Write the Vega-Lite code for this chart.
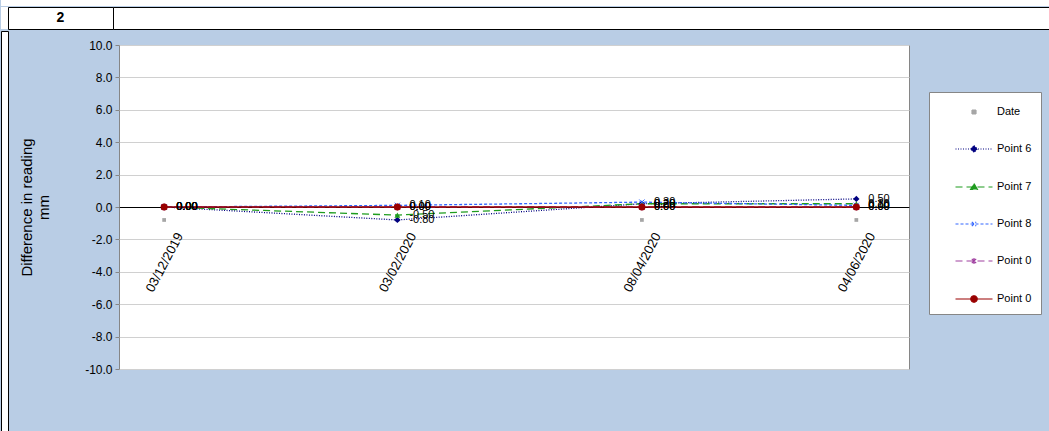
{
  "$schema": "https://vega.github.io/schema/vega-lite/v6.json",
  "background": "#b9cde5",
  "padding": 0,
  "spacing": 0,
  "config": {
    "font": "Liberation Sans",
    "view": {"stroke": null},
    "concat": {"spacing": 0},
    "locale": {"number": {"decimal": ".", "thousands": ",", "grouping": [3], "currency": ["$", ""], "minus": "-"}}
  },
  "datasets": {
    "none": [],
    "one": [{"k": 1}],
    "readings": [
      {"series": "Date", "date": "2019-12-03", "value": -0.8},
      {"series": "Date", "date": "2020-02-03", "value": -0.8},
      {"series": "Date", "date": "2020-04-08", "value": -0.8},
      {"series": "Date", "date": "2020-06-04", "value": -0.8},
      {"series": "Point 6", "date": "2019-12-03", "value": 0},
      {"series": "Point 6", "date": "2020-02-03", "value": -0.8},
      {"series": "Point 6", "date": "2020-04-08", "value": 0.2},
      {"series": "Point 6", "date": "2020-06-04", "value": 0.5},
      {"series": "Point 7", "date": "2019-12-03", "value": 0},
      {"series": "Point 7", "date": "2020-02-03", "value": -0.5},
      {"series": "Point 7", "date": "2020-04-08", "value": 0.2},
      {"series": "Point 7", "date": "2020-06-04", "value": 0.2},
      {"series": "Point 8", "date": "2019-12-03", "value": 0},
      {"series": "Point 8", "date": "2020-02-03", "value": 0.1},
      {"series": "Point 8", "date": "2020-04-08", "value": 0.3},
      {"series": "Point 8", "date": "2020-06-04", "value": 0.1},
      {"series": "Point 0a", "date": "2019-12-03", "value": 0},
      {"series": "Point 0a", "date": "2020-02-03", "value": 0},
      {"series": "Point 0a", "date": "2020-04-08", "value": 0},
      {"series": "Point 0a", "date": "2020-06-04", "value": 0},
      {"series": "Point 0b", "date": "2019-12-03", "value": 0},
      {"series": "Point 0b", "date": "2020-02-03", "value": 0},
      {"series": "Point 0b", "date": "2020-04-08", "value": 0},
      {"series": "Point 0b", "date": "2020-06-04", "value": 0}
    ]
  },
  "vconcat": [
    {"width": 1049, "height": 6, "data": {"name": "none"}, "mark": {"type": "text", "text": ""}, "view": {"fill": "white", "stroke": null}},
    {
      "spacing": 0,
      "bounds": "flush",
      "hconcat": [
        {"width": 7, "height": 22, "data": {"name": "none"}, "mark": {"type": "text", "text": ""}, "view": {"fill": "white", "stroke": null}},
        {"width": 105, "height": 22, "data": {"name": "one"}, "mark": {"type": "text", "text": "2", "fontSize": 14, "fontWeight": "bold", "color": "#000000"}, "view": {"fill": "white", "stroke": "#000000", "strokeWidth": 1}},
        {"width": 945, "height": 22, "data": {"name": "none"}, "mark": {"type": "text", "text": ""}, "view": {"fill": "white", "stroke": "#000000", "strokeWidth": 1}}
      ]
    },
    {
      "spacing": 0,
      "bounds": "flush",
      "hconcat": [
        {"width": 7, "height": 410, "data": {"name": "none"}, "mark": {"type": "text", "text": ""}, "view": {"fill": "white", "stroke": "#000000", "strokeWidth": 1}},
        {"width": 111, "height": 1, "data": {"name": "none"}, "mark": {"type": "text", "text": ""}},
        {
          "spacing": 0,
          "bounds": "flush",
          "vconcat": [
            {"width": 1, "height": 14, "data": {"name": "none"}, "mark": {"type": "text", "text": ""}},
            {
              "width": 790,
              "height": 324,
              "data": {"name": "readings"},
              "view": {"fill": "white", "stroke": "#868686", "strokeWidth": 1},
              "encoding": {
                "x": {
                  "field": "date", "type": "temporal",
                  "scale": {"type": "utc", "domain": [{"year": 2019, "month": 11, "date": 21, "utc": true}, {"year": 2020, "month": 6, "date": 18, "utc": true}]},
                  "axis": {
                    "title": null, "orient": "bottom", "offset": -162,
                    "values": [{"year": 2019, "month": 12, "date": 3, "utc": true}, {"year": 2020, "month": 2, "date": 3, "utc": true}, {"year": 2020, "month": 4, "date": 8, "utc": true}, {"year": 2020, "month": 6, "date": 4, "utc": true}],
                    "format": "%d/%m/%Y", "grid": false, "ticks": false, "domain": true, "domainColor": "#000000", "domainWidth": 1,
                    "labelAngle": -62, "labelAlign": "center", "labelBaseline": "middle", "labelPadding": 55,
                    "labelFontSize": 13, "labelColor": "#000000", "labelOverlap": false, "labelFlush": false, "labelBound": false
                  }
                },
                "y": {
                  "field": "value", "type": "quantitative",
                  "scale": {"domain": [-10, 10], "nice": false, "zero": false},
                  "axis": {
                    "title": ["Difference in reading", "mm"],
                    "values": [-10, -8, -6, -4, -2, 0, 2, 4, 6, 8, 10],
                    "format": ".1f", "grid": true, "gridColor": "#d0d0d0", "domain": false,
                    "ticks": true, "tickSize": 4, "tickColor": "#868686", "labelPadding": 3,
                    "labelFontSize": 12, "labelColor": "#000000",
                    "titleFontSize": 15, "titleFontWeight": "normal", "titleColor": "#000000", "titlePadding": 33, "titleLineHeight": 17
                  }
                }
              },
              "layer": [
                {
                  "transform": [{"filter": "false"}],
                  "mark": {"type": "point", "filled": true},
                  "encoding": {
                    "color": {
                      "field": "series", "type": "nominal",
                      "scale": {"domain": ["Date", "Point 6", "Point 7", "Point 8", "Point 0a", "Point 0b"], "range": ["#a6a6a6", "#000080", "#1f9c1f", "#3366ff", "#a040a0", "#990000"]},
                      "legend": {
                        "orient": "none", "legendX": 928, "legendY": 92, "title": null,
                        "fillColor": "#ffffff", "strokeColor": "#868686", "padding": 9,
                        "rowPadding": 21, "symbolSize": 400, "symbolOffset": 25, "labelOffset": 12,
                        "labelFontSize": 11, "labelColor": "#000000", "labelFont": "Liberation Sans",
                        "labelExpr": "datum.label == 'Point 0a' || datum.label == 'Point 0b' ? 'Point 0' : datum.label",
                        "symbolStrokeWidth": 1.2, "symbolOpacity": 1
                      }
                    },
                    "shape": {
                      "field": "series", "type": "nominal",
                      "scale": {"domain": ["Date", "Point 6", "Point 7", "Point 8", "Point 0a", "Point 0b"], "range": [
                        "M-0.2,-0.2H0.2V0.2H-0.2Z",
                        "M-1.85,0H1.85M0,-0.34L0.34,0L0,0.34L-0.34,0Z",
                        "M-1.85,0H1.85M0,-0.34L0.34,0.25L-0.34,0.25Z",
                        "M-1.85,0H1.85M-0.22,-0.22L0.22,0.22M-0.22,0.22L0.22,-0.22",
                        "M-1.85,0H1.85M-0.22,-0.22L0.22,0.22M-0.22,0.22L0.22,-0.22M0,-0.3V0.3",
                        "M-1.85,0H1.85M0.32,0A0.32,0.32 0 1 1 -0.32,0A0.32,0.32 0 1 1 0.32,0Z"
                      ]}
                    },
                    "strokeDash": {"field": "series", "type": "nominal", "scale": {"domain": ["Date", "Point 6", "Point 7", "Point 8", "Point 0a", "Point 0b"], "range": [[1, 0], [1, 1.5], [7, 4], [3, 2], [7, 4], [1, 0]]}}
                  }
                },
                {
                  "transform": [{"filter": "datum.series != 'Date'"}],
                  "mark": {"type": "line", "strokeWidth": 1.3},
                  "encoding": {
                    "color": {"field": "series", "type": "nominal", "scale": {"domain": ["Date", "Point 6", "Point 7", "Point 8", "Point 0a", "Point 0b"], "range": ["#a6a6a6", "#000080", "#1f9c1f", "#3366ff", "#a040a0", "#990000"]}},
                    "strokeDash": {"field": "series", "type": "nominal", "scale": {"domain": ["Date", "Point 6", "Point 7", "Point 8", "Point 0a", "Point 0b"], "range": [[1, 0], [1, 1.5], [7, 4], [3, 2], [7, 4], [1, 0]]}}
                  }
                },
                {
                  "transform": [{"filter": "datum.series == 'Date'"}],
                  "mark": {"type": "square", "size": 14, "opacity": 1},
                  "encoding": {
                    "color": {"field": "series", "type": "nominal", "scale": {"domain": ["Date", "Point 6", "Point 7", "Point 8", "Point 0a", "Point 0b"], "range": ["#a6a6a6", "#000080", "#1f9c1f", "#3366ff", "#a040a0", "#990000"]}}
                  }
                },
                {
                  "transform": [{"filter": "datum.series == 'Point 6'"}],
                  "mark": {"type": "point", "shape": "diamond", "filled": true, "size": 40, "opacity": 1},
                  "encoding": {
                    "color": {"field": "series", "type": "nominal", "scale": {"domain": ["Date", "Point 6", "Point 7", "Point 8", "Point 0a", "Point 0b"], "range": ["#a6a6a6", "#000080", "#1f9c1f", "#3366ff", "#a040a0", "#990000"]}}
                  }
                },
                {
                  "transform": [{"filter": "datum.series == 'Point 7'"}],
                  "mark": {"type": "point", "shape": "triangle-up", "filled": true, "size": 34, "opacity": 1},
                  "encoding": {
                    "color": {"field": "series", "type": "nominal", "scale": {"domain": ["Date", "Point 6", "Point 7", "Point 8", "Point 0a", "Point 0b"], "range": ["#a6a6a6", "#000080", "#1f9c1f", "#3366ff", "#a040a0", "#990000"]}}
                  }
                },
                {
                  "transform": [{"filter": "datum.series == 'Point 8'"}],
                  "mark": {"type": "point", "shape": "M-1,-1L1,1M-1,1L1,-1", "filled": false, "size": 28, "strokeWidth": 1, "opacity": 1},
                  "encoding": {
                    "color": {"field": "series", "type": "nominal", "scale": {"domain": ["Date", "Point 6", "Point 7", "Point 8", "Point 0a", "Point 0b"], "range": ["#a6a6a6", "#000080", "#1f9c1f", "#3366ff", "#a040a0", "#990000"]}}
                  }
                },
                {
                  "transform": [{"filter": "datum.series == 'Point 0a'"}],
                  "mark": {"type": "point", "shape": "M-1,-1L1,1M-1,1L1,-1M0,-1.3V1.3", "filled": false, "size": 30, "strokeWidth": 1, "opacity": 1},
                  "encoding": {
                    "color": {"field": "series", "type": "nominal", "scale": {"domain": ["Date", "Point 6", "Point 7", "Point 8", "Point 0a", "Point 0b"], "range": ["#a6a6a6", "#000080", "#1f9c1f", "#3366ff", "#a040a0", "#990000"]}}
                  }
                },
                {
                  "transform": [{"filter": "datum.series == 'Point 0b'"}],
                  "mark": {"type": "circle", "size": 50, "opacity": 1},
                  "encoding": {
                    "color": {"field": "series", "type": "nominal", "scale": {"domain": ["Date", "Point 6", "Point 7", "Point 8", "Point 0a", "Point 0b"], "range": ["#a6a6a6", "#000080", "#1f9c1f", "#3366ff", "#a040a0", "#990000"]}}
                  }
                },
                {
                  "transform": [{"filter": "datum.series != 'Date'"}],
                  "mark": {"type": "text", "align": "left", "baseline": "middle", "dx": 12, "fontSize": 11, "color": "#000000"},
                  "encoding": {
                    "text": {"field": "value", "type": "quantitative", "format": ".2f"}
                  }
                }
              ]
            }
          ]
        }
      ]
    }
  ]
}
